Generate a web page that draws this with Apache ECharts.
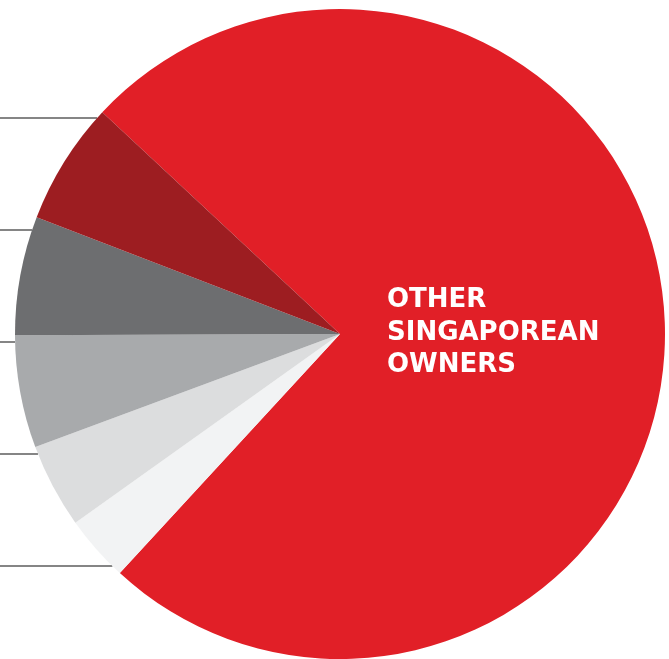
<!DOCTYPE html>
<html>
<head>
<meta charset="utf-8">
<script src="https://cdn.jsdelivr.net/npm/echarts@6/dist/echarts.min.js"></script>
<style>
html,body{margin:0;padding:0;background:#ffffff;}
#chart{width:669px;height:659px;}
</style>
</head>
<body>
<div id="chart"></div>
<script>
// Data (clockwise from the upper-left boundary of the big red slice)
var categories = ['Other Singaporean owners', 'Group E', 'Group D', 'Group C', 'Group B', 'Group A'];
var shares = [74.9, 3.3, 4.2, 5.6, 5.9, 6.1];
var mainLabel = 'OTHER\nSINGAPOREAN\nOWNERS';

// Styling / layout
var colors = ['#e11f27', '#f2f3f4', '#dcddde', '#a8aaac', '#6d6e70', '#9d1d21'];
var cx = 340, cy = 334, R = 325;
var leaderTop = 118, leaderStep = 112;

var chart = echarts.init(document.getElementById('chart'), null, {renderer: 'canvas'});

var data = categories.map(function (name, i) {
  var item = {name: name, value: shares[i], itemStyle: {color: colors[i]}};
  if (i === 0) {
    item.label = {
      show: true, position: 'inside', formatter: mainLabel,
      color: '#ffffff', fontFamily: 'DejaVu Sans', fontWeight: 'bold',
      fontSize: 26, lineHeight: 32.5, align: 'left'
    };
    item.labelLine = {show: false};
  }
  return item;
});

chart.setOption({
  backgroundColor: '#ffffff',
  animation: false,
  series: [{
    type: 'pie',
    center: [cx, cy],
    radius: [0, R],
    startAngle: 137,
    clockwise: true,
    avoidLabelOverlap: false,
    emphasis: {disabled: true},
    silent: true,
    itemStyle: {borderWidth: 0},
    label: {show: true, position: 'outside', formatter: '{b}', color: '#666', fontSize: 12},
    labelLine: {show: true, smooth: false, length: 10, length2: 10,
      lineStyle: {color: '#858585', width: 2}},
    labelLayout: function (p) {
      if (p.dataIndex === 0) {
        return {x: 387, y: 333, align: 'left', verticalAlign: 'middle'};
      }
      // leader lines: evenly spaced, from the pie edge horizontally to the left
      var k = categories.length - 1 - p.dataIndex; // dark red first (top)
      var y = leaderTop + k * leaderStep;
      var dy = y - cy;
      var ex = cx - Math.sqrt(Math.max(0, R * R - dy * dy));
      return {
        x: -200, y: y, align: 'right', verticalAlign: 'middle',
        labelLinePoints: [[ex, y], [-20, y]]
      };
    },
    data: data
  }]
});
</script>
</body>
</html>
